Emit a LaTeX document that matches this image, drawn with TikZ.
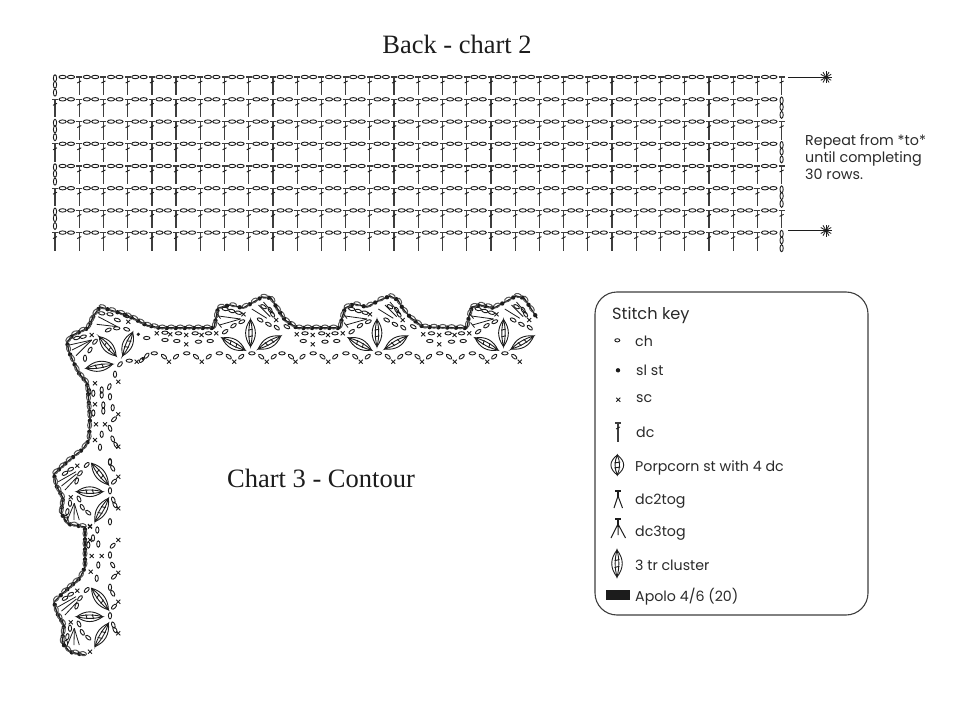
\documentclass[tikz,border=0pt]{standalone}
\usepackage{fontspec}
\setmainfont{Liberation Serif}
\newfontfamily\keyfont{Poppins}
\definecolor{ink}{HTML}{1C1C1C}
\definecolor{keytext}{HTML}{2A2A2A}
\tikzset{
  chst/.style={draw=ink,line width=0.9pt},
  scst/.style={draw=ink,line width=0.9pt},
  poststitch/.style={draw=ink!85,line width=1.25pt},
  fanline/.style={draw=ink,line width=0.8pt},
  leafline/.style={draw=ink,line width=0.9pt},
  titletext/.style={font=\fontsize{26.5}{30}\selectfont,text=ink,inner sep=0pt},
  keylabel/.style={font=\keyfont\fontsize{14.2}{16}\selectfont,text=keytext,anchor=west,inner sep=0pt},
  star/.style={minimum size=12pt,inner sep=0pt,path picture={
    \foreach \t in {0,30,...,330}{\draw[ink,line width=0.8pt] (path picture bounding box.center) -- ++(\t:6pt);}}},
}
% beads along one stretch of the outer edge: a yarn line, a slip stitch and a chain loop
\newcommand{\edgeRun}[1]{%
  \def\prevset{0}%
  \foreach \x/\y in {#1}{%
    \ifnum\prevset=1
      \draw[ink,line width=1.3pt,line cap=round] (\lastx,\lasty) -- (\x,\y);
      \pgfmathsetmacro{\seglen}{veclen(\x-\lastx,\y-\lasty)}%
      \pgfmathsetmacro{\segang}{atan2(\lasty-\y,\x-\lastx)}%
      \pgfmathtruncatemacro{\beads}{max(1,round(\seglen/9))}%
      \foreach \b in {1,...,\beads}{%
        \pgfmathsetmacro{\ff}{(\b-0.75)/\beads}%
        \pgfmathsetmacro{\gg}{(\b-0.25)/\beads}%
        \fill[ink] ({\lastx+\ff*(\x-\lastx)},{\lasty+\ff*(\y-\lasty)}) circle[radius=2.2pt];
        \draw[draw=ink!75,line width=1pt] ({\lastx+\gg*(\x-\lastx)},{\lasty+\gg*(\y-\lasty)-1}) ellipse[x radius=3.4pt,y radius=2pt,rotate=\segang];
      }%
    \fi
    \global\let\lastx\x \global\let\lasty\y
    \gdef\prevset{1}%
  }}
% chain, single crochet, double crochet and porpcorn symbols
\newcommand{\chainList}[1]{\foreach \x/\y/\a in {#1}{\draw[chst] (\x,\y) ellipse[x radius=3.2pt,y radius=1.6pt,rotate=\a];}}
\newcommand{\scAt}[2]{\draw[scst] (#1-2,#2-2) -- (#1+2,#2+2) (#1-2,#2+2) -- (#1+2,#2-2);}
\newcommand{\scList}[1]{\foreach \x/\y in {#1}{\scAt{\x}{\y}}}
\newcommand{\postAt}[2]{%
  \draw[poststitch] (#1-3,#2) -- (#1+3,#2) (#1,#2) -- (#1,#2+18);
  \draw[draw=ink,line width=0.9pt] (#1-2,#2+6) -- (#1+2,#2+4);}
\newcommand{\leafAt}[5]{%
  \begin{scope}[shift={(#1,#2)},rotate=#3]
    \draw[leafline] (-#4,0) .. controls (-#4/3,#5) and (#4/3,#5) .. (#4,0)
                            .. controls (#4/3,-#5) and (-#4/3,-#5) .. cycle;
    \draw[leafline] (-#4,0) .. controls (-#4/3,#5*0.35) and (#4/3,#5*0.35) .. (#4,0)
                            .. controls (#4/3,-#5*0.35) and (-#4/3,-#5*0.35) .. cycle;
    \draw[leafline] (-#4*0.3,-#5*0.35) -- (-#4*0.2,#5*0.35) (#4*0.2,-#5*0.35) -- (#4*0.3,#5*0.35);
  \end{scope}}
\newcommand{\fanList}[1]{\foreach \x/\y/\u/\v in {#1}{%
  \draw[fanline] (\x,\y) -- (\u,\v);}}
\begin{document}
\begin{tikzpicture}[x=1pt,y=-1pt]
\useasboundingbox (0,0) rectangle (972,706);

% --- worked rows of the back panel ---
\node[titletext] (backtitle) at (457,44) {Back - chart 2};
\foreach \r/\ry in {1/77,3/121.6,5/166,7/210.4}{
  \foreach \c in {1,...,30}{\pgfmathsetmacro{\cx}{55+24.22*\c}\postAt{\cx}{\ry}}
  \foreach \k in {1.2,7.8,15.6}{\draw[chst] (55,\ry+\k) ellipse[x radius=1.6pt,y radius=3.5pt];}
  \foreach \c in {0,...,29}{\pgfmathsetmacro{\cx}{55+24.22*\c}
    \draw[chst] (\cx+7.6,\ry) ellipse[x radius=3.6pt,y radius=1.7pt];
    \draw[chst] (\cx+16,\ry) ellipse[x radius=3.6pt,y radius=1.7pt];}
}
\foreach \r/\ry in {2/99.3,4/143.8,6/188.2,8/232.6}{
  \foreach \c in {0,...,29}{\pgfmathsetmacro{\cx}{55+24.22*\c}\postAt{\cx}{\ry}}
  \foreach \k in {1.2,7.8,15.6}{\draw[chst] (781.6,\ry+\k) ellipse[x radius=1.6pt,y radius=3.5pt];}
  \foreach \c in {0,...,29}{\pgfmathsetmacro{\cx}{55+24.22*\c}
    \draw[chst] (\cx+7.6,\ry) ellipse[x radius=3.6pt,y radius=1.7pt];
    \draw[chst] (\cx+16,\ry) ellipse[x radius=3.6pt,y radius=1.7pt];}
}

% repeat markers
\coordinate (repA) at (788,77.3);
\coordinate (repB) at (788,230.5);
\node[star] (starA) at (826,77.3) {};
\node[star] (starB) at (826,230.5) {};
\draw[ink,line width=0.7pt] (repA) -- (starA.center);
\draw[ink,line width=0.7pt] (repB) -- (starB.center);
\node[keylabel,align=left,font=\keyfont\fontsize{14.3}{17}\selectfont] (repeatnote) at (805,157.5) {Repeat from *to*\\until completing\\30 rows.};

% --- contour: beaded outer edge ---
\edgeRun{537/318,530/307,524/298,516/296,505/302,494/308,480/305,472/307,469/316,467/328,
  423/327,411/318,403/309,398/300,390/296,378/301,367/307,354/304,345/308,342/318,340/328,
  297/328,285/320,277/308,271/298,262/297,252/303,243/308,230/305,218/308,216/318,214/328,
  160/328,146/325,133/318,120/313,100/307,94/315,88/328,73/335,67/342,69/352,78/372,87/383,
  88/392,90/418,89/440,83/449,67/462,54/474,56/485,63/498,61/513,68/524,85/527,
  85/567,80/578,63/593,54/602,57/613,64/625,62/643,70/652,85/655}

% scalloped lower edge of the top band
\foreach \dx in {0,126.5,253}{
  \begin{scope}[shift={(\dx,0)}]
    \scList{169/361.7,201.7/361.7,234.2/361.7,266.7/361.7}
    \chainList{176/356.7/40,186.7/353.3/0,196/356.7/-40,208.7/356.7/40,219.4/353.3/0,228.7/356.7/-40,241.2/356.7/40,251.9/353.3/0,261.2/356.7/-40}
  \end{scope}
}
\foreach \dx in {0,126.5}{
  \begin{scope}[shift={(\dx,0)}]
    \chainList{273.7/356.7/40,282/353.3/0,291/356.7/-40,286.8/326.7/-30}
  \end{scope}
}
% repeating shell of the top band
\foreach \dx in {-126.5,0,126.5}{
  \begin{scope}[shift={(\dx,0)}]
    \leafAt{377}{333}{90}{13.5}{6.5}
    \leafAt{360}{344}{-28}{13}{6.5}
    \leafAt{396}{342.5}{30}{13}{6.5}
    \chainList{305/333.3/0,321.7/333.3/0,335/333.3/0,303.3/341/0,325/341.7/0,336.7/341/0,
      351.7/331.7/35,360/325.7/35,368.3/321.7/25,386.7/320/-30,395/324.3/-30,403.3/327.7/-40,
      351.7/309/-10,358.3/311/-15,365/312.7/-15,390/306.7/-30,396.7/310/-60,399/314.3/-60}
    \scList{296.7/334.3,312.7/335,312.7/344.3,328/335,342.7/333.3,370/314.3,402.7/320}
    \fanList{345/316/367/319,346/325/367/319,378.3/309/393.3/318.3,385/305/396.7/316.7,390/302/400/314}
    \draw[fanline] (343,313.5) -- (347,318.5) (344,322.5) -- (348,327.5);
  \end{scope}
}

% corner shell
\leafAt{107.7}{346.3}{-49}{12.8}{6.5}
\leafAt{127.7}{344}{67}{12.7}{6.5}
\leafAt{99.3}{366.3}{9}{13.5}{6.5}
\chainList{76.7/338/15,83.3/336.7/15,85/358.3/90,90/350/60,95/341.7/50,108.3/330/25,116.7/328.3/0,126.7/329.3/-20,
  101.7/313.3/-10,110/314.3/-10,117.3/320/-20,126/315.7/-30,120/364.3/50,129.3/360.7/0,141.7/360/45,146.7/355.7/50,
  154.3/353.3/0,164/356.7/-40,146.7/338/0,165/340/0,165/332.7/0}
\scList{91.7/335,128.3/321.7,136.7/361.7,156.7/333.3}
\fill[ink] (138.3,334.3) circle[radius=1.8pt] (143,359) circle[radius=1.6pt];
\fanList{91.7/340/69.3/345,91.7/340/72/350,91.7/340/76/355.7,117.3/326.7/96.7/324.3,117.3/326.7/98.3/316.7}

% side band, chains and stitches between the shells
\chainList{115/374.3/90,109.3/386.7/70,110/396.7/90,101.7/390/90,101.7/395/90,103.3/411/90,103.3/405/90,112.7/407.7/90,114/419.3/45,110/428.3/-70,
  101.7/434.3/90,112.7/439/-70,116/445/-60,100/447.3/90,110/461.7/90,89.3/391.7/90,93.3/393.3/90,93.3/413/90}
\scList{95/383.3,118.3/381.7,118.3/414.3,95/404.3,96/424.3,105/424.3,95/440,118.3/446.7}
\chainList{97.3/530/90,98.3/544/90,112.7/545.7/45,110/555/90,112.7/565/-60,114/576.7/45,98.3/565/90,96.7/578.3/90,110/521.7/90,88.3/545/90,93/538/90}
\scList{90/526,118.3/540,101.7/556,91.7/556,118.3/572.7,90.7/571.7,90/540}

% repeating shell of the side band
\foreach \dy in {-125,0}{
  \begin{scope}[shift={(0,\dy)}]
    \leafAt{100}{599}{-52}{13.7}{6.5}
    \leafAt{89.7}{616.7}{0}{13}{6.5}
    \leafAt{101.7}{635}{60}{13.5}{6.5}
    \chainList{86.7/590/45,80/598.3/50,76.7/606/70,65/598.3/30,70.7/594.3/25,79/624/-65,82.3/632.3/-60,88.3/637.7/-40,
      70/628.3/90,67.3/636.7/80,66/643.3/90,110/587.3/90,112.7/593.3/-60,114/606.7/45,110/615.7/90,113.3/625/-70,115/630/-60}
    \scList{77.3/590.7,70.7/622.3,118.3/601.7,118.3/633.3,90/651.7}
    \fanList{76/596.7/58.3/606.7,76.5/599/61.5/611,77.3/601.7/65/615,74.3/628.3/67.3/645,74.3/628.3/74/645,74.3/628.3/79.3/645}
  \end{scope}
}

\node[titletext] (contourtitle) at (321,478) {Chart 3 - Contour};

% --- stitch key ---
\node[draw=ink!85,line width=1.1pt,rounded corners=22pt,minimum width=273pt,minimum height=323pt,inner sep=0pt] (keybox) at (731.5,453.5) {};
\node[keylabel,font=\keyfont\fontsize{16.2}{18}\selectfont] (keyhead) at (612,315) {Stitch key};

\draw[chst] (617.3,340.3) ellipse[x radius=2.5pt,y radius=1.6pt];
\node[keylabel] (lblch) at (635,341) {ch};
\fill[ink] (618,370.3) circle[radius=2.2pt];
\node[keylabel] (lblsl) at (636,370) {sl st};
\scAt{618.3}{399.7}
\node[keylabel] (lblsc) at (636,399) {sc};
\draw[poststitch] (615,423) -- (621,423) (618,423) -- (618,442.3);
\draw[draw=ink,line width=0.8pt] (616,429) -- (620,427);
\node[keylabel] (lbldc) at (636,432) {dc};

\leafAt{617.3}{465}{90}{10}{8.5}
\node[keylabel] (lblpop) at (635,468) {Porpcorn st with 4 dc};

\draw[ink,line width=1.8pt] (615,491) -- (621,491);
\draw[ink,line width=1.4pt] (618,491) -- (618,497);
\draw[ink,line width=1pt] (618,496) -- (614,508) (618,496) -- (622.5,508);
\node[keylabel] (lbl2tog) at (635,501) {dc2tog};

\draw[ink,line width=1.8pt] (615,519) -- (621,519);
\draw[ink,line width=1.4pt] (618,519) -- (618,525);
\draw[ink,line width=1pt] (618,524) -- (611,538) (618,524) -- (618,535) (618,524) -- (625.5,538);
\node[keylabel] (lbl3tog) at (635,533) {dc3tog};

\leafAt{617}{563.5}{90}{13.5}{7}
\node[keylabel] (lblcluster) at (635,565) {3 tr cluster};

\fill[ink] (606,590) rectangle (630,599.5);
\node[keylabel] (lblyarn) at (635,597) {Apolo 4/6 (20)};
\end{tikzpicture}
\end{document}
